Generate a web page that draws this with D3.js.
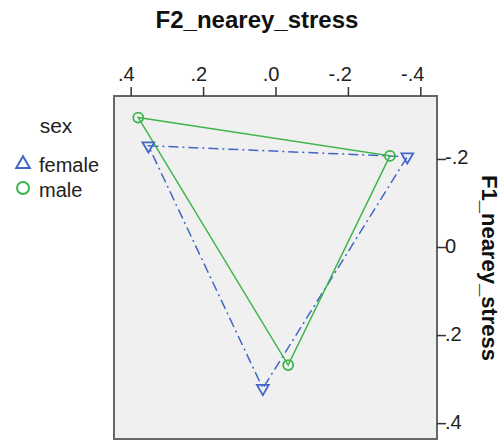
<!DOCTYPE html>
<html><head><meta charset="utf-8">
<script src="https://cdn.jsdelivr.net/npm/d3@7"></script>
<style>body{margin:0;background:#fff}svg{display:block}</style>
</head><body>
<svg id="c" width="504" height="441"></svg>
<script>
const groups = ["female","male"];
const femaleF2 = [0.351, -0.364, 0.035];
const femaleF1 = [-0.230, -0.205, 0.321];
const maleF2 = [0.379, -0.316, -0.035];
const maleF1 = [-0.294, -0.207, 0.268];
const xTickValues = [0.4, 0.2, 0.0, -0.2, -0.4];
const xTickLabels = [".4", ".2", ".0", "-.2", "-.4"];
const yTickValues = [-0.2, 0, 0.2, 0.4];
const yTickLabels = ["-.2", "0", ".2", ".4"];
const colors = {female:"#4266c8", male:"#3cb44a"};

const svg = d3.select("#c");
const L=114, R=437, T=96, B=439;
const x = d3.scaleLinear().domain([0.446,-0.446]).range([L,R]);
const y = d3.scaleLinear().domain([-0.343,0.436]).range([T,B]);
const font = "'Liberation Sans', Arial, sans-serif";

svg.append("rect").attr("x",L).attr("y",T).attr("width",R-L).attr("height",B-T)
  .attr("fill","#f0f0f0").attr("stroke","#666").attr("stroke-width",2);

const xa = svg.append("g").attr("transform",`translate(0,${T})`)
  .call(d3.axisTop(x).tickValues(xTickValues).tickSize(9).tickSizeOuter(0)
    .tickFormat((d,i)=>xTickLabels[i]));
xa.select(".domain").remove();
xa.selectAll("line").attr("stroke","#333").attr("stroke-width",1.5);
xa.selectAll("text").attr("font-family",font).attr("font-size",20).attr("fill","#222")
  .attr("text-anchor","end").attr("x",3.5).attr("y",-15).attr("dy",0);

const ya = svg.append("g").attr("transform",`translate(${R},0)`)
  .call(d3.axisRight(y).tickValues(yTickValues).tickSize(9).tickSizeOuter(0)
    .tickFormat((d,i)=>yTickLabels[i]));
ya.select(".domain").remove();
ya.selectAll("line").attr("stroke","#333").attr("stroke-width",1.5);
ya.selectAll("text").attr("font-family",font).attr("font-size",20).attr("fill","#222")
  .attr("text-anchor","start").attr("x",8).attr("dy",5);

svg.append("text").attr("x",257).attr("y",28).attr("text-anchor","middle")
  .attr("font-family",font).attr("font-weight","bold").attr("font-size",24)
  .attr("fill","#111").text("F2_nearey_stress");
svg.append("text").attr("transform","translate(482,268) rotate(90)").attr("text-anchor","middle")
  .attr("font-family",font).attr("font-weight","bold").attr("font-size",22)
  .attr("fill","#111").text("F1_nearey_stress");

const data = {
  female: femaleF2.map((v,i)=>({f2:v,f1:femaleF1[i]})),
  male: maleF2.map((v,i)=>({f2:v,f1:maleF1[i]}))
};
const line = d3.line().x(d=>x(d.f2)).y(d=>y(d.f1)).curve(d3.curveLinearClosed);

svg.append("path").datum(data.female).attr("d",line).attr("fill","none")
  .attr("stroke",colors.female).attr("stroke-width",1.5).attr("stroke-dasharray","10,4,2,4");
svg.append("path").datum(data.male).attr("d",line).attr("fill","none")
  .attr("stroke",colors.male).attr("stroke-width",1.5);

const tri = d3.symbol().type(d3.symbolTriangle).size(60);
svg.selectAll(".ft").data(data.female).join("path")
  .attr("transform",d=>`translate(${x(d.f2)},${y(d.f1)}) rotate(180)`)
  .attr("d",tri).attr("fill","none").attr("stroke",colors.female).attr("stroke-width",1.8);
svg.selectAll(".mc").data(data.male).join("circle")
  .attr("cx",d=>x(d.f2)).attr("cy",d=>y(d.f1)).attr("r",5)
  .attr("fill","none").attr("stroke",colors.male).attr("stroke-width",1.8);

// legend
svg.append("text").attr("x",56).attr("y",133).attr("text-anchor","middle")
  .attr("font-family",font).attr("font-size",21).attr("fill","#222").text("sex");
svg.append("path").attr("transform","translate(23,164)")
  .attr("d",d3.symbol().type(d3.symbolTriangle).size(80)).attr("fill","none")
  .attr("stroke",colors.female).attr("stroke-width",2);
svg.append("circle").attr("cx",23).attr("cy",188).attr("r",6)
  .attr("fill","none").attr("stroke",colors.male).attr("stroke-width",2);
svg.selectAll(".lt").data(groups).join("text")
  .attr("x",39).attr("y",(d,i)=>172+i*25).attr("font-family",font).attr("font-size",20)
  .attr("fill","#222").text(d=>d);
</script>
</body></html>
